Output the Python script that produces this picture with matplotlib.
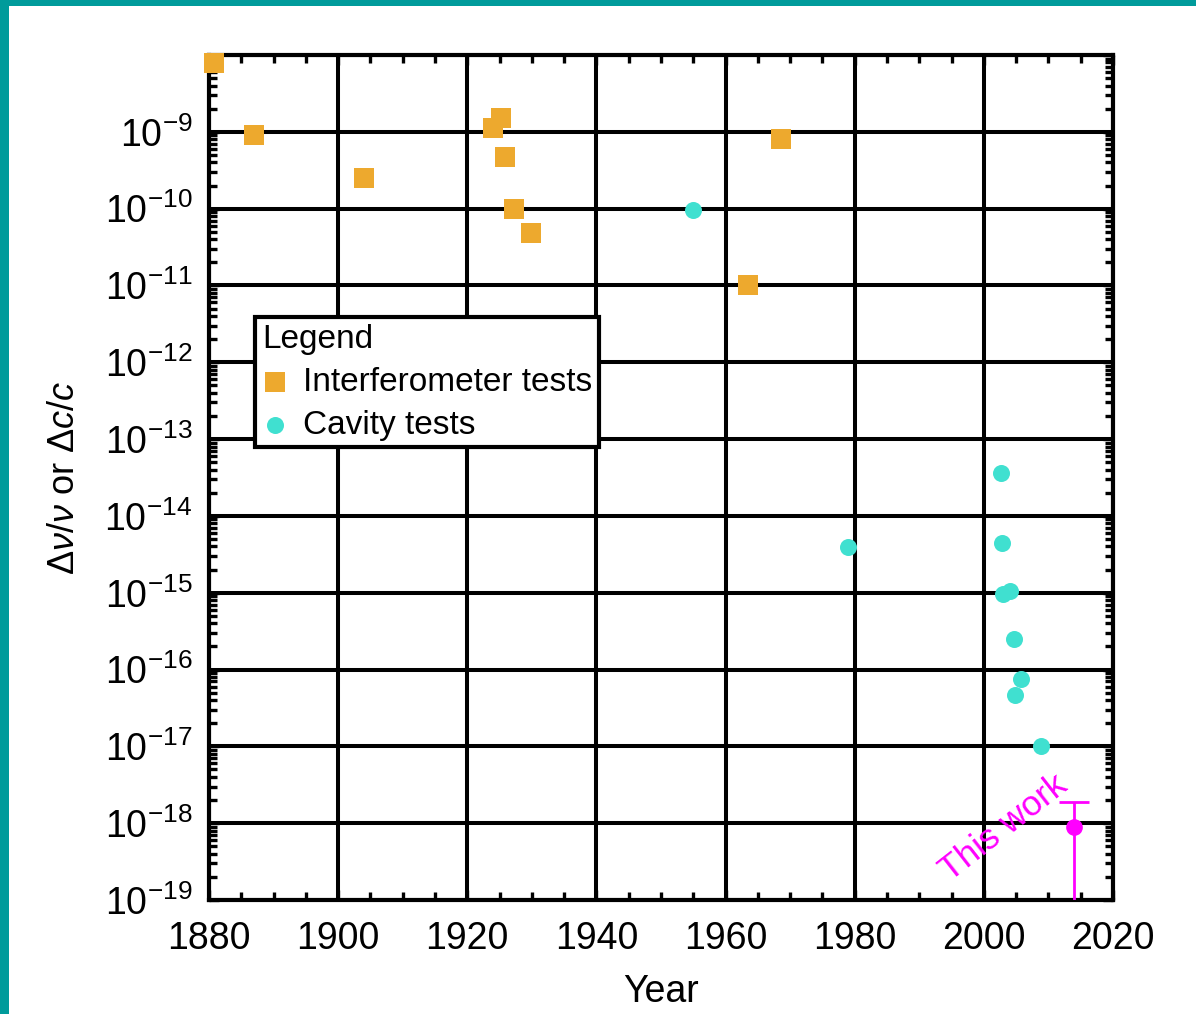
import matplotlib
matplotlib.use("Agg")
import numpy as np
import matplotlib.pyplot as plt
from matplotlib.patches import Rectangle
from matplotlib.ticker import MultipleLocator, LogLocator, NullFormatter, FuncFormatter

plt.rcParams['font.family'] = ['Liberation Sans', 'DejaVu Sans']
plt.rcParams['mathtext.fontset'] = 'custom'
plt.rcParams['mathtext.rm'] = 'Liberation Sans'
plt.rcParams['mathtext.it'] = 'Liberation Sans:italic'
plt.rcParams['mathtext.default'] = 'regular'

# ---- data ----
interf_year = [1880.7, 1887, 1904, 1924, 1925.2, 1925.8, 1927.3, 1929.8, 1963.4, 1968.6]
interf_val = [7.9e-9, 9e-10, 2.5e-10, 1.13e-9, 1.5e-9, 4.7e-10, 1.0e-10, 4.8e-11, 1.0e-11, 8e-10]

cavity_year = [1955, 1979, 2002.6, 2002.8, 2002.9, 2004.1, 2004.7, 2005.8, 2004.9, 2008.9]
cavity_val = [0.95e-10, 3.9e-15, 3.6e-14, 4.4e-15, 0.95e-15, 1.05e-15, 2.5e-16, 7.5e-17, 4.6e-17, 1.0e-17]

this_year = [2013.9]
this_val = [8.8e-19]
this_upper = [1.87e-18]
this_lower = [1.0e-20]

orange = '#EDA92E'
cyan = '#40E0D0'
magenta = '#FF00FF'

fig = plt.figure(figsize=(11.96, 10.14), dpi=100)
fig.patches.append(Rectangle((0, 1 - 6/1014), 1, 6/1014, transform=fig.transFigure,
                             facecolor='#009B9B', edgecolor='none', zorder=10))
fig.patches.append(Rectangle((0, 0), 8.5/1196, 1, transform=fig.transFigure,
                             facecolor='#009B9B', edgecolor='none', zorder=10))

ax = fig.add_axes([209/1196, 1 - 900/1014, (1113-209)/1196, (900-55)/1014])
ax.set_xlim(1880, 2020)
ax.set_yscale('log')
ax.set_ylim(1e-19, 1e-8)

ax.grid(True, which='major', color='black', linewidth=2.9)
ax.set_axisbelow(True)
for s in ax.spines.values():
    s.set_linewidth(3.0)
    s.set_zorder(2.5)


def ylab(v, pos):
    e = int(round(np.log10(v)))
    if e > -9:
        return ''
    return r'$10^{\minus%d}$' % (-e)


ax.xaxis.set_major_locator(MultipleLocator(20))
ax.xaxis.set_minor_locator(MultipleLocator(5))
ax.yaxis.set_major_locator(LogLocator(base=10, numticks=20))
ax.yaxis.set_major_formatter(FuncFormatter(ylab))
ax.yaxis.set_minor_locator(LogLocator(base=10, subs=range(2, 10), numticks=20))
ax.yaxis.set_minor_formatter(NullFormatter())

ax.tick_params(which='both', direction='in', top=True, right=True, width=2.4)
ax.tick_params(which='major', length=7, labelsize=27)
ax.tick_params(which='minor', length=6)
ax.tick_params(axis='y', which='major', pad=12)
ax.tick_params(axis='x', which='major', pad=15)

ax.scatter(interf_year, interf_val, marker='s', s=205, color=orange, linewidths=0,
           zorder=4, clip_on=False, label='Interferometer tests')
ax.scatter(cavity_year, cavity_val, marker='o', s=150, color=cyan, linewidths=0,
           zorder=4, clip_on=False, label='Cavity tests')

lower = [v - l for v, l in zip(this_val, this_lower)]
upper = [u - v for v, u in zip(this_val, this_upper)]
ax.errorbar(this_year, this_val, yerr=[lower, upper], fmt='o', color=magenta,
            markersize=11, elinewidth=2, capsize=11, capthick=2, zorder=5)

ax.text(2003.1, 8.6e-19, 'This work', color=magenta, fontsize=25.5, rotation=38,
        ha='center', va='center', rotation_mode='anchor', zorder=5)

ax.set_xlabel('Year', fontsize=27, labelpad=12)
ax.set_ylabel(r'$\Delta\mathit{\nu}/\mathit{\nu}$ or $\Delta \mathit{c}/\mathit{c}$', fontsize=26, labelpad=16)

leg = ax.legend(title='Legend', loc='upper left', bbox_to_anchor=(0.051, 0.690),
                borderaxespad=0, fontsize=24, title_fontsize=24, frameon=True,
                fancybox=False, edgecolor='black', framealpha=1, handlelength=0.8,
                handletextpad=0.45, borderpad=0.2, labelspacing=0.36,
                alignment='left', scatterpoints=1)
leg.get_frame().set_linewidth(3.0)
leg.set_zorder(6)

fig.savefig('out.png', dpi=100)
